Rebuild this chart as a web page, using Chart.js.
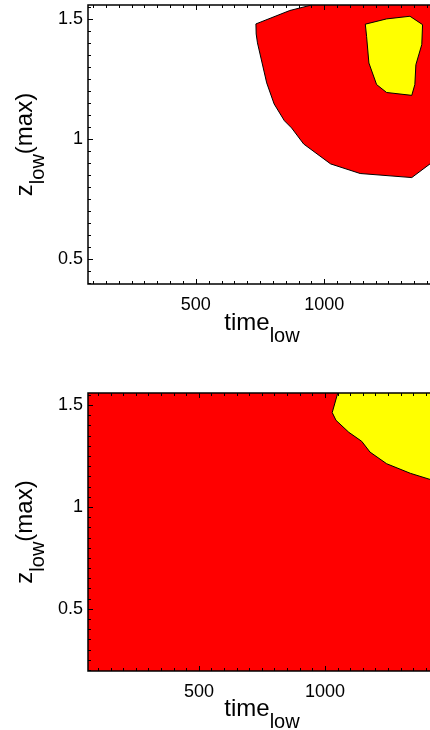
<!DOCTYPE html>
<html>
<head>
<meta charset="utf-8">
<script src="https://cdn.jsdelivr.net/npm/chart.js@4.4.1/dist/chart.umd.min.js"></script>
<style>
  html, body { margin: 0; padding: 0; background: #fff; overflow: hidden; }
  canvas { display: block; }
</style>
</head>
<body>
<canvas id="topChart" width="430" height="365"></canvas>
<canvas id="bottomChart" width="430" height="365"></canvas>
<script>
// tick labels
const xTicks = [500, 1000];
const yTicks = [0.5, 1, 1.5];

// axis ranges
const topXRange = [80, 1412];
const topYRange = [0.394, 1.558];
const bottomXRange = [60, 1417];
const bottomYRange = [0.195, 1.559];

// top panel: outer (red) contour
const topRedX = [960, 951, 866, 734, 735, 740, 776, 805, 845, 873, 920, 1025, 1140, 1341, 1412, 1500, 1500, 960];
const topRedY = [1.60, 1.558, 1.535, 1.479, 1.437, 1.40, 1.233, 1.145, 1.075, 1.045, 0.978, 0.895, 0.855, 0.838, 0.895, 0.97, 1.60, 1.60];
// top panel: inner (yellow) contour
const topYellowX = [1160, 1243, 1334, 1383, 1380, 1357, 1353, 1341, 1243, 1204, 1174, 1165, 1160];
const topYellowY = [1.478, 1.500, 1.511, 1.476, 1.393, 1.309, 1.226, 1.181, 1.193, 1.226, 1.316, 1.427, 1.478];

// bottom panel: red covers everything, yellow in the top right corner
const bottomRedX = [0, 1600, 1600, 0, 0];
const bottomRedY = [0, 0, 2, 2, 0];
const bottomYellowX = [1060, 1051, 1029, 1044, 1095, 1146, 1179, 1245, 1339, 1417, 1500, 1500, 1060];
const bottomYellowY = [1.60, 1.559, 1.463, 1.425, 1.366, 1.322, 1.269, 1.212, 1.165, 1.135, 1.10, 1.60, 1.60];

const fontFamily = "'Liberation Sans', Arial, sans-serif";

function toPoints(xs, ys) {
    return xs.map((x, i) => ({ x: x, y: ys[i] }));
}

function region(xs, ys, color, border) {
    return {
        data: toPoints(xs, ys),
        showLine: true,
        fill: 'shape',
        backgroundColor: color,
        borderColor: '#000',
        borderWidth: border,
        pointRadius: 0,
        tension: 0,
        clip: 0
    };
}

// frame, inward ticks and the subscripted axis titles
const framePlugin = {
    id: 'frame',
    afterDraw(chart, args, opts) {
        const { ctx, chartArea: a, scales } = chart;
        const x = scales.x, y = scales.y;
        ctx.save();
        ctx.strokeStyle = '#000';
        ctx.lineWidth = 1.5;
        ctx.beginPath();
        ctx.moveTo(a.right + 5, a.top);
        ctx.lineTo(a.left, a.top);
        ctx.lineTo(a.left, a.bottom);
        ctx.lineTo(a.right + 5, a.bottom);
        ctx.stroke();

        ctx.lineWidth = 1;
        ctx.beginPath();
        for (let v = Math.ceil(x.min / 50) * 50; v <= x.max; v += 50) {
            const px = Math.round(x.getPixelForValue(v)) + 0.5;
            const len = v % 500 === 0 ? 5 : 3;
            ctx.moveTo(px, a.bottom); ctx.lineTo(px, a.bottom - len);
            ctx.moveTo(px, a.top); ctx.lineTo(px, a.top + len);
        }
        for (let k = Math.ceil(y.min / 0.05); k * 0.05 <= y.max; k++) {
            const py = Math.round(y.getPixelForValue(k * 0.05)) + 0.5;
            const len = k % 10 === 0 ? 5 : 3;
            ctx.moveTo(a.left, py); ctx.lineTo(a.left + len, py);
        }
        ctx.stroke();

        // x title: time_low
        ctx.fillStyle = '#000';
        ctx.textBaseline = 'alphabetic';
        ctx.textAlign = 'left';
        const big = '24px ' + fontFamily, small = '20px ' + fontFamily;
        ctx.font = big;
        const w1 = ctx.measureText('time').width;
        ctx.font = small;
        const w2 = ctx.measureText('low').width;
        const cx = (a.left + a.right) / 2 + 3;
        let sx = cx - (w1 + w2) / 2;
        ctx.font = big;
        ctx.fillText('time', sx, opts.xBase);
        ctx.font = small;
        ctx.fillText('low', sx + w1, opts.xBase + 11.5);

        // y title: z_low(max), rotated
        ctx.font = big;
        const z1 = ctx.measureText('z').width;
        const z3 = ctx.measureText('(max)').width;
        ctx.font = small;
        const z2 = ctx.measureText('low').width;
        const cy = (a.top + a.bottom) / 2;
        ctx.translate(opts.yBase, cy + (z1 + z2 + z3) / 2);
        ctx.rotate(-Math.PI / 2);
        ctx.font = big;
        ctx.fillText('z', 0, 0);
        ctx.font = small;
        ctx.fillText('low', z1, 11.5);
        ctx.font = big;
        ctx.fillText('(max)', z1 + z2, 0);
        ctx.restore();
    }
};

function makeChart(id, datasets, xRange, yRange, padTop, xHeight, xBase, yBase) {
    const ctx = document.getElementById(id).getContext('2d');
    return new Chart(ctx, {
        type: 'scatter',
        data: { datasets: datasets },
        plugins: [framePlugin],
        options: {
            responsive: false,
            animation: false,
            events: [],
            layout: { padding: { top: padTop, left: 0, right: 0, bottom: 0 } },
            plugins: {
                legend: { display: false },
                tooltip: { enabled: false },
                frame: { xBase: xBase, yBase: yBase }
            },
            scales: {
                x: {
                    type: 'linear',
                    min: xRange[0],
                    max: xRange[1],
                    grid: { display: false, drawTicks: false },
                    border: { display: false },
                    ticks: {
                        color: '#000',
                        font: { family: fontFamily, size: 18 },
                        padding: 10,
                        maxRotation: 0,
                        callback: v => String(v)
                    },
                    afterBuildTicks: s => { s.ticks = xTicks.map(v => ({ value: v })); },
                    afterFit: s => { s.height = xHeight; s.paddingLeft = 0; s.paddingRight = 0; }
                },
                y: {
                    type: 'linear',
                    min: yRange[0],
                    max: yRange[1],
                    grid: { display: false, drawTicks: false },
                    border: { display: false },
                    ticks: {
                        color: '#000',
                        font: { family: fontFamily, size: 18 },
                        padding: 5,
                        callback: v => String(v)
                    },
                    afterBuildTicks: s => { s.ticks = yTicks.map(v => ({ value: v })); },
                    afterFit: s => { s.width = 88; s.paddingTop = 0; s.paddingBottom = 0; }
                }
            }
        }
    });
}

makeChart('topChart', [
    region(topYellowX, topYellowY, '#ffff00', 1),
    region(topRedX, topRedY, '#ff0000', 1)
], topXRange, topYRange, 5, 81, 330, 32);

makeChart('bottomChart', [
    region(bottomYellowX, bottomYellowY, '#ffff00', 1),
    region(bottomRedX, bottomRedY, '#ff0000', 0)
], bottomXRange, bottomYRange, 28, 59, 351, 32);
</script>
</body>
</html>
